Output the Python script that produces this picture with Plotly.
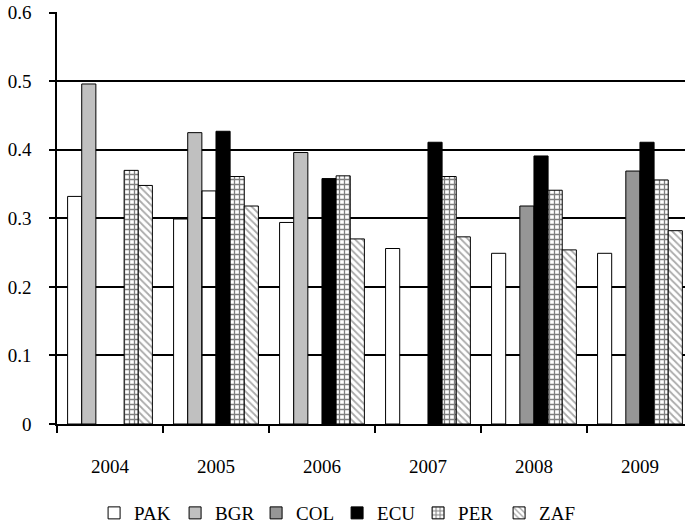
import plotly.graph_objects as go

years = ['2004', '2005', '2006', '2007', '2008', '2009']
pak = [0.332, 0.299, 0.294, 0.256, 0.249, 0.249]
bgr = [0.496, 0.425, 0.396, None, None, None]
col = [None, 0.340, None, None, 0.318, 0.369]
ecu = [None, 0.427, 0.358, 0.411, 0.391, 0.411]
per = [0.370, 0.361, 0.362, 0.361, 0.341, 0.356]
zaf = [0.348, 0.318, 0.270, 0.273, 0.254, 0.282]

FONT = 'Liberation Serif'

fig = go.Figure()
fig.add_trace(go.Bar(x=years, y=pak, name='PAK',
                     marker=dict(color='white', line=dict(color='black', width=1))))
fig.add_trace(go.Bar(x=years, y=bgr, name='BGR',
                     marker=dict(color='#c0c0c0', line=dict(color='black', width=1))))
# the 2005 COL bar has no fill in the original
fig.add_trace(go.Bar(x=years, y=col, name='COL',
                     marker=dict(color=['#969696', 'rgba(0,0,0,0)', '#969696', '#969696', '#969696', '#969696'],
                                 line=dict(color='black', width=1))))
fig.add_trace(go.Bar(x=years, y=ecu, name='ECU',
                     marker=dict(color='black', line=dict(color='black', width=1))))
fig.add_trace(go.Bar(x=years, y=per, name='PER',
                     marker=dict(color='white', line=dict(color='black', width=1),
                                 pattern=dict(shape='+', fgcolor='black', bgcolor='white',
                                              size=5, solidity=0.45))))
fig.add_trace(go.Bar(x=years, y=zaf, name='ZAF',
                     marker=dict(color='white', line=dict(color='black', width=1),
                                 pattern=dict(shape='\\', fgcolor='#555555', bgcolor='white',
                                              size=5, solidity=0.35))))

fig.update_layout(
    width=685, height=528,
    margin=dict(l=57, r=0, t=12, b=104, autoexpand=False),
    paper_bgcolor='white', plot_bgcolor='white',
    font=dict(family=FONT, size=19, color='black'),
    barmode='group', bargap=0.2, bargroupgap=0,
    legend=dict(orientation='h', x=0.446, xanchor='center', y=-0.17, yanchor='top',
                font=dict(size=19), entrywidth=36, itemwidth=30,
                tracegroupgap=0),
    showlegend=True,
)
fig.update_xaxes(
    range=[-0.5, 5.425], showline=True, linecolor='black', linewidth=1.5,
    ticks='outside', tickson='boundaries', ticklen=7, tickwidth=1.5, tickcolor='black',
    showgrid=False, ticklabelstandoff=24, automargin=False,
)
fig.update_yaxes(
    range=[0, 0.601], showline=True, linecolor='black', linewidth=1.5,
    ticks='outside', ticklen=6, tickwidth=1.5, tickcolor='black',
    showgrid=True, gridcolor='black', gridwidth=1.5, zeroline=False,
    ticklabelstandoff=14, automargin=False,
    tickvals=[0, 0.1, 0.2, 0.3, 0.4, 0.5, 0.6],
    ticktext=['0', '0.1', '0.2', '0.3', '0.4', '0.5', '0.6'],
)

fig.write_html('out.html', config={'displayModeBar': False},
               post_script="document.body.style.margin='0';")
